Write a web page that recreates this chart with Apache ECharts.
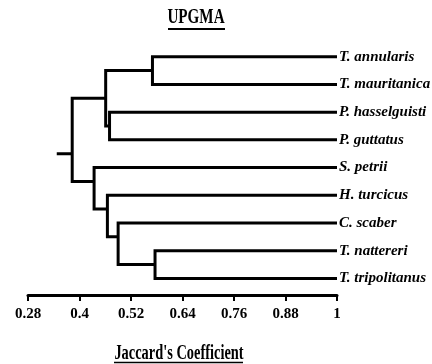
<!DOCTYPE html>
<html>
<head>
<meta charset="utf-8">
<script src="https://cdn.jsdelivr.net/npm/echarts@6/dist/echarts.min.js"></script>
<style>html,body{margin:0;padding:0;background:#fff}#c{width:432px;height:364px}</style>
</head>
<body>
<div id="c"></div>
<script>
// ---- data ----
const leaves = ['T. annularis','T. mauritanica','P. hasselguisti','P. guttatus','S. petrii','H. turcicus','C. scaber','T. nattereri','T. tripolitanus'];
// merges: [childA, childB, Jaccard coefficient at merge]; 'L#' = leaf index, 'N#' = earlier merge index
const merges = [
  ['L0','L1',0.570],
  ['L2','L3',0.470],
  ['N0','N1',0.461],
  ['L7','L8',0.576],
  ['L6','N3',0.490],
  ['L5','N4',0.465],
  ['L4','N5',0.434],
  ['N2','N6',0.383]
];
const leafLevel = 1.0;
const rootStubStart = 0.347;
const xTicks = [0.28,0.4,0.52,0.64,0.76,0.88,1];
const titleText = 'UPGMA';
const axisTitle = "Jaccard's Coefficient";

// ---- layout (where each bracket attaches between its two children) ----
const attachFrac = [0.5,0.5,0.5,0.5,1/3,1/3,1/3,2/3];

const nodes = {};
leaves.forEach((n,i)=>{ nodes['L'+i] = {y:i, h:leafLevel}; });
const segs = [];
merges.forEach((m,k)=>{
  const a = nodes[m[0]], b = nodes[m[1]], h = m[2];
  segs.push({coords:[[a.h,a.y],[h,a.y],[h,b.y],[b.h,b.y]]});
  nodes['N'+k] = {y: a.y + (b.y - a.y)*attachFrac[k], h:h};
});
const root = nodes['N'+(merges.length-1)];
segs.push({coords:[[rootStubStart,root.y],[root.h,root.y]]});

const serif = '"Liberation Serif","Times New Roman",serif';
const chart = echarts.init(document.getElementById('c'), null, {renderer:'canvas'});
chart.setOption({
  animation:false,
  backgroundColor:'#fff',
  grid:{left:28,right:95,top:29,bottom:69,containLabel:false,outerBoundsMode:'none'},
  xAxis:{
    type:'value',min:0.28,max:1,position:'bottom',
    axisLine:{show:true,onZero:false,lineStyle:{color:'#000',width:3}},
    axisTick:{show:true,length:6,inside:false,lineStyle:{color:'#000',width:2},customValues:xTicks},
    axisLabel:{customValues:xTicks,margin:12,color:'#000',fontFamily:serif,fontWeight:'bold',fontSize:15,
      formatter:v=>String(+v.toFixed(2))},
    splitLine:{show:false}
  },
  yAxis:{
    type:'value',inverse:true,min:-1,max:8.6,position:'right',
    axisLine:{show:false,onZero:false},axisTick:{show:false},splitLine:{show:false},
    axisLabel:{customValues:leaves.map((_,i)=>i),formatter:v=>leaves[Math.round(v)]||'',margin:2,
      color:'#000',fontFamily:serif,fontWeight:'bold',fontStyle:'italic',fontSize:15,align:'left'}
  },
  series:[{
    type:'lines',coordinateSystem:'cartesian2d',polyline:true,
    lineStyle:{color:'#000',width:3,opacity:1,join:'miter',cap:'butt'},
    data:segs,silent:true
  }],
  graphic:[
    {type:'text',x:196,y:18,scaleX:0.72,style:{text:titleText,font:'bold 21px '+serif,fill:'#000',textAlign:'center',textVerticalAlign:'middle'}},
    {type:'line',shape:{x1:168,y1:29,x2:225,y2:29},style:{stroke:'#000',lineWidth:2}},
    {type:'text',x:179,y:353.5,scaleX:0.72,style:{text:axisTitle,font:'bold 20px '+serif,fill:'#000',textAlign:'center',textVerticalAlign:'middle'}},
    {type:'line',shape:{x1:114,y1:362.5,x2:243,y2:362.5},style:{stroke:'#000',lineWidth:1.5}}
  ]
});
</script>
</body>
</html>
